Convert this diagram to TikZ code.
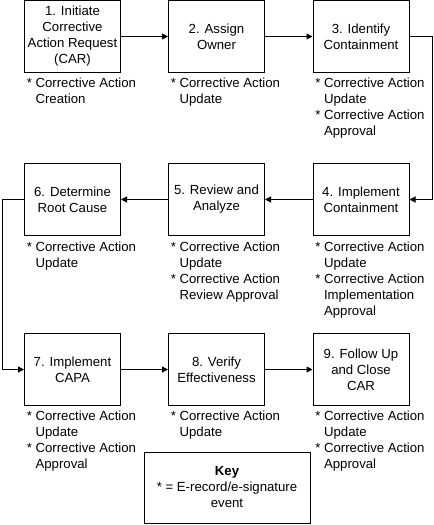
\documentclass[tikz,border=0pt]{standalone}
\usepackage{fontspec}
\setmainfont{Liberation Sans}
\usetikzlibrary{arrows.meta,calc}
\newcommand\hgap{\hphantom{*\ }}
\begin{document}
\begin{tikzpicture}[x=0.75pt,y=-0.75pt,
  every node/.style={font=\fontsize{9.9}{12}\selectfont, text=black},
  stepbox/.style={draw, line width=0.75pt, minimum width=72pt, minimum height=54pt, align=center, inner sep=0pt},
  keybox/.style={draw, line width=0.75pt, minimum width=124.5pt, minimum height=53.25pt, align=center, inner sep=0pt},
  lab/.style={anchor=north west, align=left, inner sep=0pt},
  conn/.style={line width=0.75pt, -{Triangle[length=4.5pt,width=4.5pt]}}
]
\useasboundingbox (0,0) rectangle (433,525);
% row 1
\node[stepbox] (b1) at (72.5,36.5) {1. Initiate\\Corrective\\Action Request\\(CAR)};
\node[stepbox] (b2) at (216.5,36.5) {2. Assign\\Owner};
\node[stepbox] (b3) at (361,36.5) {3. Identify\\Containment};
% row 2
\node[stepbox] (b4) at (361,199.5) {4. Implement\\Containment};
\node[stepbox] (b5) at (216.5,199.5) {5. Review and\\Analyze};
\node[stepbox] (b6) at (72.5,199.5) {6. Determine\\Root Cause};
% row 3
\node[stepbox] (b7) at (72.5,369.5) {7. Implement\\CAPA};
\node[stepbox] (b8) at (216.5,369.5) {8. Verify\\Effectiveness};
\node[stepbox] (b9) at (361,369.5) {9. Follow Up\\and Close\\CAR};
% key
\node[keybox] (key) at (227,487.5) {\textbf{Key}\\* = E-record/e-signature\\event};
% labels
\node[lab] (l1) at ($(b1.south west)+(2.5,5)$) {*\ Corrective Action\\\hgap Creation};
\node[lab] (l2) at ($(b2.south west)+(2.5,5)$) {*\ Corrective Action\\\hgap Update};
\node[lab] (l3) at ($(b3.south west)+(2.5,5)$) {*\ Corrective Action\\\hgap Update\\*\ Corrective Action\\\hgap Approval};
\node[lab] (l4) at ($(b4.south west)+(2.5,6)$) {*\ Corrective Action\\\hgap Update\\*\ Corrective Action\\\hgap Implementation\\\hgap Approval};
\node[lab] (l5) at ($(b5.south west)+(2.5,6)$) {*\ Corrective Action\\\hgap Update\\*\ Corrective Action\\\hgap Review Approval};
\node[lab] (l6) at ($(b6.south west)+(2.5,6)$) {*\ Corrective Action\\\hgap Update};
\node[lab] (l7) at ($(b7.south west)+(2.5,5)$) {*\ Corrective Action\\\hgap Update\\*\ Corrective Action\\\hgap Approval};
\node[lab] (l8) at ($(b8.south west)+(2.5,5)$) {*\ Corrective Action\\\hgap Update};
\node[lab] (l9) at ($(b9.south west)+(2.5,5)$) {*\ Corrective Action\\\hgap Update\\*\ Corrective Action\\\hgap Approval};
% connectors
\coordinate (r) at (432,36.5);
\coordinate (lft) at (2.7,199.5);
\draw[conn] (b1.east) -- (b2.west);
\draw[conn] (b2.east) -- (b3.west);
\draw[conn] (b3.east) -- (r) |- (b4.east);
\draw[conn] (b4.west) -- (b5.east);
\draw[conn] (b5.west) -- (b6.east);
\draw[conn] (b6.west) -- (lft) |- (b7.west);
\draw[conn] (b7.east) -- (b8.west);
\draw[conn] (b8.east) -- (b9.west);
\end{tikzpicture}
\end{document}
